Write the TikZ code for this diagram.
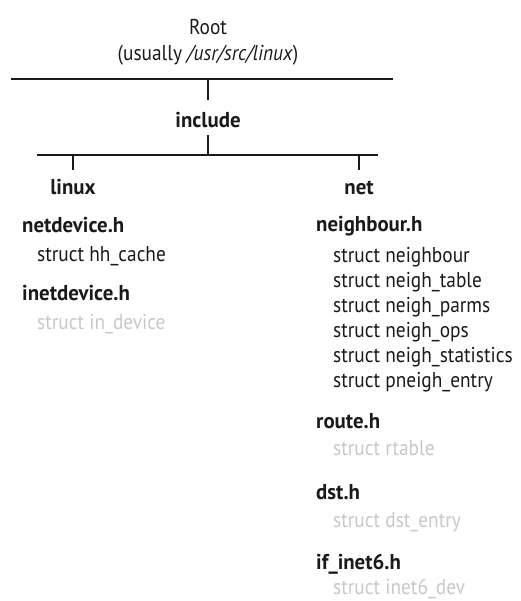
\documentclass[tikz,border=0pt]{standalone}
\usepackage{fontspec}
\setmainfont[FakeStretch=0.9, BoldFeatures={FakeStretch=0.97}]{PT Sans}
\definecolor{ink}{HTML}{1A1A1A}
\definecolor{faded}{HTML}{C8C8C8}
\tikzset{
  bar/.style={line width=2.6pt, draw=ink},
  dirlabel/.style={font=\fontsize{21.5}{24}\selectfont\bfseries, text=ink, anchor=base,
    inner xsep=0pt, inner ysep=7pt, text height=14pt, text depth=0pt},
  caption/.style={font=\fontsize{21.5}{24}\selectfont, text=ink, anchor=base, inner sep=0pt},
  header/.style={font=\fontsize{21.5}{24}\selectfont\bfseries, text=ink, anchor=base west, inner sep=0pt},
  member/.style={font=\fontsize{21.5}{24}\selectfont, text=ink, anchor=base west, inner sep=0pt},
  unused/.style={member, text=faded},
}
\begin{document}
\begin{tikzpicture}[x=1pt, y=-1pt]
  \useasboundingbox (0,0) rectangle (520,601);
  % tree of directories
  \node [caption] (root) at (208,35) {Root};
  \node [caption] (rootpath) at (208,61) {(usually \textit{/usr/src/linux})};
  \coordinate (root-l) at (11,79);
  \coordinate (root-r) at (393,79);
  \node [dirlabel] (include) at (208,128) {include};
  \coordinate (inc-l) at (37,155);
  \coordinate (inc-r) at (378,155);
  \node [dirlabel] (linux) at (73,195) {linux};
  \node [dirlabel] (net) at (359,195) {net};
  \draw [bar] (root-l) -- (root-r);
  \draw [bar] (root-l -| include) -- ([yshift=7pt]include.north);
  \draw [bar] (include.south) -- (inc-l -| include);
  \draw [bar] (inc-l) -- (inc-r);
  \draw [bar] (inc-l -| linux) -- ([yshift=4pt]linux.north);
  \draw [bar] (inc-l -| net) -- ([yshift=4pt]net.north);
  % include/linux
  \node [header] (netdevice) at (22,233) {netdevice.h};
  \node [member] (hhcache) at (37,261) {struct hh\_cache};
  \node [header] (inetdevice) at (22,300) {inetdevice.h};
  \node [unused] (indevice) at (37,329) {struct in\_device};
  % include/net
  \node [header] (neighbourh) at (316,232) {neighbour.h};
  \node [member] (neighbour) at (333,262) {struct neighbour};
  \node [member] (neightable) at (333,287) {struct neigh\_table};
  \node [member] (neighparms) at (333,312) {struct neigh\_parms};
  \node [member] (neighops) at (333,337) {struct neigh\_ops};
  \node [member] (neighstats) at (333,362) {struct neigh\_statistics};
  \node [member] (pneighentry) at (333,387) {struct pneigh\_entry};
  \node [header] (routeh) at (316,428) {route.h};
  \node [unused] (rtable) at (333,455) {struct rtable};
  \node [header] (dsth) at (316,499) {dst.h};
  \node [unused] (dstentry) at (333,527) {struct dst\_entry};
  \node [header] (ifinet6h) at (316,569) {if\_inet6.h};
  \node [unused] (inet6dev) at (333,594) {struct inet6\_dev};
\end{tikzpicture}
\end{document}
